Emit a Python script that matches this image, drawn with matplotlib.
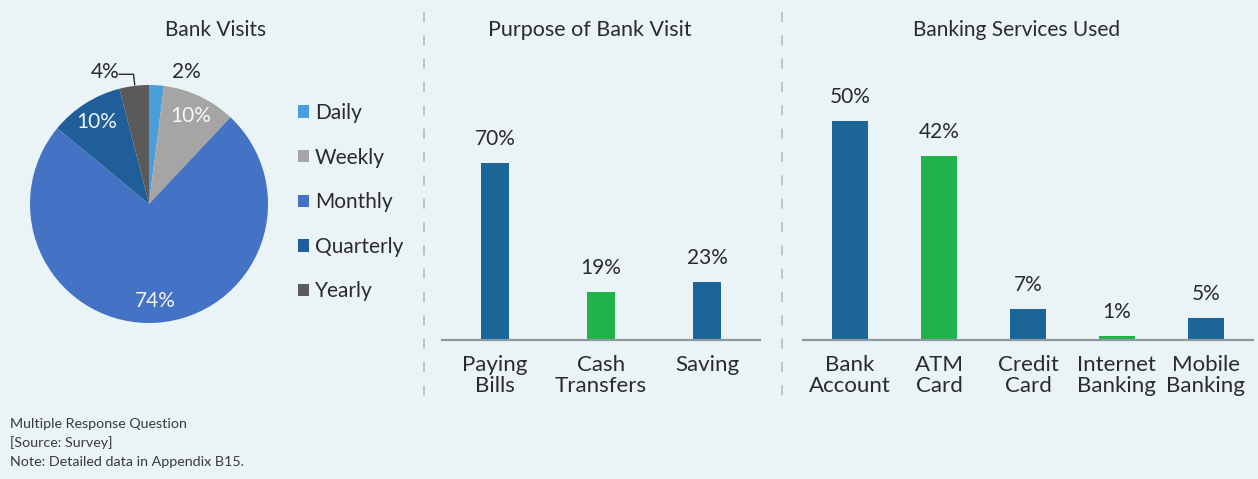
import numpy as np
import matplotlib
matplotlib.use("Agg")
import matplotlib.pyplot as plt
from matplotlib.patches import Patch
from matplotlib.lines import Line2D

# ---- data ----
visit_labels = ["Daily", "Weekly", "Monthly", "Quarterly", "Yearly"]
visit_pct = [2, 10, 74, 10, 4]

purpose_labels = ["Paying\nBills", "Cash\nTransfers", "Saving"]
purpose_pct = [70, 19, 23]

service_labels = ["Bank\nAccount", "ATM\nCard", "Credit\nCard", "Internet\nBanking", "Mobile\nBanking"]
service_pct = [50, 42, 7, 1, 5]

footnotes = ["Multiple Response Question", "[Source: Survey]", "Note: Detailed data in Appendix B15."]

# ---- style ----
BG = "#EAF3F5"
TXT = "#2B2B2B"
BLUE = "#1B6598"
GREEN = "#22B24C"
pie_colors = ["#4A9EDC", "#A5A5A5", "#4472C4", "#1F5E98", "#5A5A5A"]
purpose_colors = [BLUE, GREEN, BLUE]
service_colors = [BLUE, GREEN, BLUE, GREEN, BLUE]

plt.rcParams["font.family"] = ["Lato", "DejaVu Sans"]

W, H = 1258, 479
fig = plt.figure(figsize=(W / 100, H / 100), dpi=100, facecolor=BG)


def px_axes(x0, y0, x1, y1):
    """Axes from pixel box (top-left origin)."""
    return fig.add_axes([x0 / W, 1 - y1 / H, (x1 - x0) / W, (y1 - y0) / H])


# ---- pie: Bank Visits ----
axp = px_axes(30, 85, 268, 323)
axp.set_facecolor("none")
wedges, _ = axp.pie(visit_pct, colors=pie_colors, startangle=90, counterclock=False,
                    radius=1, wedgeprops=dict(linewidth=0))
axp.set_xlim(-1, 1)
axp.set_ylim(-1, 1)
axp.axis("off")

cum = np.cumsum([0] + visit_pct[:-1])
for i, (v, c) in enumerate(zip(visit_pct, cum)):
    mid = np.deg2rad(90 - (c + v / 2) * 3.6)
    if v >= 10:
        r = 0.82
        axp.text(r * np.cos(mid), r * np.sin(mid), f"{v}%", color="white", alpha=0.92,
                 ha="center", va="center", fontsize=15)
    elif visit_labels[i] == "Daily":
        axp.text(0.31, 1.11, f"{v}%", color=TXT, ha="center", va="center", fontsize=15,
                 clip_on=False)
    else:
        ex, ey = np.cos(mid), np.sin(mid)
        axp.add_line(Line2D([-0.25, -0.13, -0.12], [1.09, 1.09, ey + 0.01], color=TXT,
                            lw=1.0, clip_on=False))
        axp.text(-0.37, 1.11, f"{v}%", color=TXT, ha="center", va="center", fontsize=15,
                 clip_on=False)

fig.text(216 / W, 1 - 30 / H, "Bank Visits", ha="center", va="center", fontsize=15, color=TXT)

handles = [Patch(facecolor=c, edgecolor="none") for c in pie_colors]
fig.legend(handles, visit_labels, loc="upper left", bbox_to_anchor=(298 / W, 1 - 103 / H),
           frameon=False, fontsize=15, handlelength=0.55, handleheight=0.55,
           handletextpad=0.25, labelspacing=1.18, borderaxespad=0, borderpad=0,
           labelcolor=TXT)


# ---- bar helper ----
def bar_panel(ax, labels, vals, colors, width, top):
    x = np.arange(len(vals))
    bars = ax.bar(x, vals, width=width, color=colors, linewidth=0)
    ax.bar_label(bars, labels=[f"{v}%" for v in vals], padding=10, fontsize=15, color=TXT)
    ax.set_xticks(x)
    ax.set_xticklabels(labels, fontsize=16, color=TXT, linespacing=1.05)
    ax.tick_params(axis="x", length=0, pad=11)
    ax.set_yticks([])
    ax.set_ylim(0, top)
    ax.set_xlim(-0.5, len(vals) - 0.5)
    ax.set_facecolor("none")
    for s in ["top", "right", "left"]:
        ax.spines[s].set_visible(False)
    ax.spines["bottom"].set_color("#8C9A9F")
    ax.spines["bottom"].set_linewidth(1.6)


# ---- Purpose of Bank Visit ----
ax2 = px_axes(442, 60, 760, 340)
bar_panel(ax2, purpose_labels, purpose_pct, purpose_colors, 0.27, 280 / 2.53)
fig.text(590 / W, 1 - 30 / H, "Purpose of Bank Visit", ha="center", va="center",
         fontsize=15.5, color=TXT)

# ---- Banking Services Used ----
ax3 = px_axes(803, 60, 1253, 340)
bar_panel(ax3, service_labels, service_pct, service_colors, 0.40, 280 / 4.38)
ax3.set_xlim(-0.53, len(service_pct) - 0.47)
fig.text(1017 / W, 1 - 30 / H, "Banking Services Used", ha="center", va="center",
         fontsize=15, color=TXT)

# ---- dashed separators ----
for xp in (424, 782):
    fig.add_artist(Line2D([xp / W, xp / W], [1 - 12 / H, 1 - 408 / H], color="#B3BDC1",
                          lw=1.2, linestyle=(0, (6, 8))))

# ---- footnotes ----
for i, t in enumerate(footnotes):
    fig.text(10 / W, 1 - (424 + i * 19) / H, t, ha="left", va="center", fontsize=10.3,
             color="#3A3A3A")

fig.savefig("out.png", dpi=100, facecolor=BG)
